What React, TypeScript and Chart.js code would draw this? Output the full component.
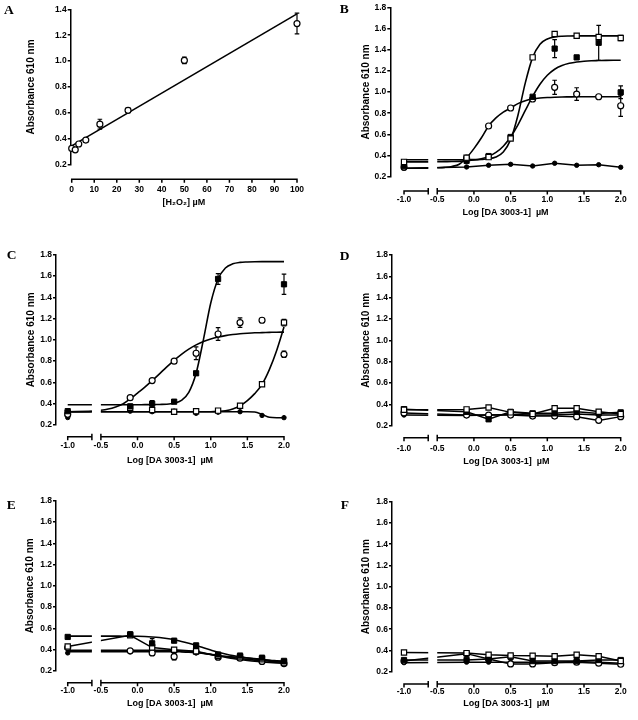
import React, { useEffect, useRef } from 'react';
import { Chart, registerables, LinearScale } from 'chart.js';

Chart.register(...registerables);

// ---------------- shared axis values ----------------
const LOG_X = [-1.0, -0.1, 0.2, 0.5, 0.8, 1.1, 1.4, 1.7, 2.0];
const CURVE_X = [-1.0, -0.67, -0.5, -0.4, -0.3, -0.2, -0.1, 0.0, 0.1, 0.2, 0.3, 0.4, 0.5, 0.6, 0.7, 0.8, 0.9, 1.0, 1.1, 1.2, 1.3, 1.4, 1.5, 1.6, 1.7, 1.8, 1.9, 2.0];
const LOG_TICKS = [-1.0, -0.5, 0.0, 0.5, 1.0, 1.5, 2.0];
const ABS_TICKS = [0.2, 0.4, 0.6, 0.8, 1.0, 1.2, 1.4, 1.6, 1.8];
const A_ABS_TICKS = [0.2, 0.4, 0.6, 0.8, 1.0, 1.2, 1.4];
const H2O2_TICKS = [0, 10, 20, 30, 40, 50, 60, 70, 80, 90, 100];

// ---------------- panel A ----------------
const A_CONC = [0, 1.5625, 3.125, 6.25, 12.5, 25, 50, 100];
const A_ABS = [0.326, 0.315, 0.36, 0.39, 0.513, 0.62, 1.005, 1.29];
const A_ERR = [0.008, 0.008, 0.008, 0.008, 0.038, 0.02, 0.025, 0.08];
const A_FIT_X = [0, 100];
const A_FIT_Y = [0.345, 1.365];

// ---------------- panel B ----------------
const B_OPEN_SQ = [0.34, 0.38, 0.385, 0.56, 1.327, 1.547, 1.531, 1.52, 1.51];
const B_OPEN_SQ_ERR = [0, 0, 0, 0, 0, 0, 0, 0, 0.025];
const B_FILLED_SQ = [0.30, 0.35, 0.395, 0.575, 0.955, 1.41, 1.327, 1.465, 0.997];
const B_FILLED_SQ_ERR = [0, 0, 0, 0, 0, 0.085, 0, 0.165, 0.06];
const B_OPEN_CIRC = [0.29, 0.375, 0.679, 0.849, 0.934, 1.044, 0.98, 0.955, 0.87];
const B_OPEN_CIRC_ERR = [0, 0, 0, 0, 0, 0.067, 0.06, 0, 0.1];
const B_DOTS = [0.28, 0.292, 0.308, 0.317, 0.301, 0.327, 0.308, 0.313, 0.289];
const B_FIT_OPEN_SQ = [0.36, 0.36, 0.36, 0.36, 0.36, 0.36, 0.361, 0.361, 0.363, 0.369, 0.386, 0.433, 0.55, 0.781, 1.086, 1.327, 1.451, 1.501, 1.52, 1.527, 1.529, 1.53, 1.53, 1.53, 1.53, 1.53, 1.53, 1.53];
const B_FIT_FILLED_SQ = [0.34, 0.34, 0.341, 0.342, 0.343, 0.345, 0.35, 0.357, 0.37, 0.392, 0.429, 0.488, 0.575, 0.69, 0.826, 0.959, 1.073, 1.158, 1.215, 1.25, 1.271, 1.284, 1.291, 1.295, 1.297, 1.299, 1.3, 1.3];
const B_FIT_OPEN_CIRC = [0.28, 0.281, 0.284, 0.288, 0.297, 0.318, 0.379, 0.465, 0.565, 0.679, 0.755, 0.81, 0.849, 0.89, 0.918, 0.934, 0.943, 0.948, 0.951, 0.953, 0.954, 0.955, 0.955, 0.955, 0.955, 0.955, 0.955, 0.955];

// ---------------- panel C ----------------
const C_FILLED_SQ = [0.33, 0.375, 0.40, 0.419, 0.686, 1.572, null, null, 1.522];
const C_FILLED_SQ_ERR = [0, 0.02, 0.03, 0, 0, 0.05, 0, 0, 0.095];
const C_OPEN_CIRC = [0.30, 0.457, 0.617, 0.80, 0.874, 1.055, 1.162, 1.184, 0.864];
const C_OPEN_CIRC_ERR = [0, 0, 0, 0, 0.06, 0.06, 0.045, 0.02, 0.03];
const C_OPEN_SQ = [0.31, 0.36, 0.34, 0.325, 0.33, 0.335, 0.381, 0.582, 1.162];
const C_OPEN_SQ_ERR = [0, 0, 0, 0, 0, 0, 0, 0, 0.03];
const C_DOTS = [0.27, 0.33, 0.325, 0.33, 0.31, 0.32, 0.325, 0.29, 0.269];
const C_FIT_FILLED_SQ = [0.39, 0.39, 0.39, 0.39, 0.39, 0.39, 0.39, 0.39, 0.391, 0.391, 0.393, 0.395, 0.405, 0.432, 0.507, 0.686, 1.002, 1.346, 1.572, 1.675, 1.714, 1.728, 1.732, 1.734, 1.735, 1.735, 1.735, 1.735];
const C_FIT_OPEN_CIRC = [0.325, 0.33, 0.338, 0.35, 0.37, 0.398, 0.445, 0.50, 0.555, 0.617, 0.681, 0.746, 0.808, 0.864, 0.913, 0.953, 0.984, 1.008, 1.026, 1.04, 1.05, 1.057, 1.062, 1.066, 1.068, 1.07, 1.072, 1.073];
const C_FIT_OPEN_SQ = [0.325, 0.325, 0.325, 0.325, 0.325, 0.325, 0.325, 0.325, 0.325, 0.325, 0.325, 0.325, 0.325, 0.325, 0.325, 0.325, 0.325, 0.325, 0.328, 0.334, 0.35, 0.381, 0.43, 0.495, 0.582, 0.72, 0.90, 1.12];
const C_FIT_DOTS = [0.325, 0.325, 0.325, 0.325, 0.325, 0.325, 0.325, 0.325, 0.325, 0.325, 0.325, 0.325, 0.325, 0.325, 0.325, 0.325, 0.325, 0.325, 0.325, 0.325, 0.325, 0.325, 0.325, 0.322, 0.30, 0.272, 0.268, 0.268];

// ---------------- panel D ----------------
const D_OPEN_SQ = [0.35, 0.353, 0.37, 0.325, 0.31, 0.363, 0.363, 0.33, 0.31];
const D_FILLED_SQ = [0.355, 0.33, 0.26, 0.33, 0.316, 0.316, 0.33, 0.315, 0.325];
const D_OPEN_CIRC = [0.32, 0.30, 0.30, 0.30, 0.29, 0.29, 0.284, 0.25, 0.285];
const D_DOTS = [0.30, 0.295, 0.30, 0.305, 0.30, 0.30, 0.31, 0.30, 0.30];

// ---------------- panel E ----------------
const E_FILLED_SQ = [0.52, 0.545, 0.46, 0.485, 0.44, 0.355, 0.345, 0.325, 0.295];
const E_FILLED_SQ_ERR = [0, 0.02, 0.045, 0, 0.02, 0, 0, 0, 0];
const E_OPEN_SQ = [0.43, 0.535, 0.42, 0.40, 0.385, 0.34, 0.33, 0.31, 0.28];
const E_OPEN_CIRC = [0.42, 0.39, 0.37, 0.335, 0.38, 0.33, 0.32, 0.29, 0.27];
const E_OPEN_CIRC_ERR = [0, 0, 0, 0.03, 0, 0, 0, 0, 0];
const E_DOTS = [0.37, 0.38, 0.38, 0.385, 0.37, 0.33, 0.32, 0.29, 0.27];
const E_FIT_FILLED_SQ = [0.528, 0.528, 0.528, 0.528, 0.528, 0.527, 0.527, 0.526, 0.524, 0.52, 0.514, 0.505, 0.493, 0.478, 0.46, 0.44, 0.418, 0.397, 0.377, 0.36, 0.345, 0.333, 0.322, 0.314, 0.307, 0.301, 0.297, 0.293];
const E_FIT_OPEN_CIRC = [0.395, 0.395, 0.395, 0.395, 0.395, 0.395, 0.395, 0.395, 0.395, 0.395, 0.395, 0.395, 0.393, 0.39, 0.385, 0.377, 0.367, 0.355, 0.342, 0.33, 0.318, 0.308, 0.299, 0.291, 0.285, 0.28, 0.276, 0.273];
const E_FIT_DOTS = [0.382, 0.382, 0.382, 0.382, 0.382, 0.382, 0.382, 0.382, 0.382, 0.382, 0.382, 0.382, 0.382, 0.38, 0.377, 0.372, 0.365, 0.356, 0.346, 0.336, 0.326, 0.317, 0.309, 0.302, 0.296, 0.291, 0.287, 0.284];

// ---------------- panel F ----------------
const F_OPEN_SQ = [0.38, 0.375, 0.36, 0.352, 0.35, 0.345, 0.36, 0.345, 0.30];
const F_OPEN_CIRC = [0.30, 0.37, 0.32, 0.273, 0.273, 0.285, 0.29, 0.28, 0.27];
const F_FILLED_SQ = [0.31, 0.31, 0.32, 0.34, 0.30, 0.30, 0.30, 0.31, 0.31];
const F_DOTS = [0.285, 0.29, 0.29, 0.29, 0.29, 0.29, 0.295, 0.29, 0.28];

// ---------------- broken x scale ----------------
const BREAK_LO = -0.67;
const BREAK_HI = -0.5;
const BREAK_GAP_PX = 9;

class BrokenLinearScale extends (LinearScale as any) {
  static id = 'brokenLinear';
  static defaults = {};
  _brk() {
    const self: any = this;
    const min = self.min, max = self.max;
    const w = self.right - self.left;
    const span = (max - min) - (BREAK_HI - BREAK_LO);
    const k = (w - BREAK_GAP_PX) / span;
    const pLo = self.left + (BREAK_LO - min) * k;
    const pHi = self.right - (max - BREAK_HI) * k;
    return { min, max, k, pLo, pHi };
  }
  getPixelForValue(value: any) {
    if (value === null || value === undefined || isNaN(value)) return NaN;
    const self: any = this;
    const { min, max, k, pLo, pHi } = this._brk();
    if (value <= BREAK_LO) return self.left + (value - min) * k;
    if (value >= BREAK_HI) return self.right - (max - value) * k;
    return pLo + ((value - BREAK_LO) / (BREAK_HI - BREAK_LO)) * (pHi - pLo);
  }
  getValueForPixel(pixel: number) {
    const self: any = this;
    const { min, max, k, pLo, pHi } = this._brk();
    if (pixel <= pLo) return min + (pixel - self.left) / k;
    if (pixel >= pHi) return max - (self.right - pixel) / k;
    return BREAK_LO + ((pixel - pLo) / (pHi - pLo)) * (BREAK_HI - BREAK_LO);
  }
}
Chart.register(BrokenLinearScale as any);

// ---------------- styles ----------------
const FONT = '"Liberation Sans", Arial, Helvetica, sans-serif';
const TICK_SIZE = 8.5;
const Y_TITLE_SIZE = 10;
const X_TITLE_SIZE = 9;
const AXIS_W = 1.5;
const PANEL_W = 319;
const PANEL_H = 240;

const MARKS: Record<string, any> = {
  openCircle: { pointStyle: 'circle', pointRadius: 3, pointBackgroundColor: '#fff', pointBorderColor: '#000', pointBorderWidth: 1.2 },
  openSquare: { pointStyle: 'rect', pointRadius: 3.7, pointBackgroundColor: '#fff', pointBorderColor: '#000', pointBorderWidth: 1.2 },
  filledSquare: { pointStyle: 'rect', pointRadius: 3.7, pointBackgroundColor: '#000', pointBorderColor: '#000', pointBorderWidth: 1 },
  dot: { pointStyle: 'circle', pointRadius: 2.2, pointBackgroundColor: '#000', pointBorderColor: '#000', pointBorderWidth: 1 },
};

type Series = { xs: number[]; ys: (number | null)[]; es?: number[]; mark: string; line: boolean };
type Curve = { xs: number[]; ys: number[]; smooth: boolean };

const LOG_TITLE = 'Log [DA 3003-1]  \u00B5M';

const PANELS = [
  {
    id: 'A', ox: 0, oy: 0, letterX: 4, letterY: 2.5, broken: false,
    xTitle: '[H\u2082O\u2082] \u00B5M', xTicks: H2O2_TICKS, yTicks: A_ABS_TICKS, xFmt: (v: number) => String(v),
    geom: { axisX: 70.7, top: 9.3, bottom: 164.7, right: 297, xAxisY: 179.3, yTitleCX: 31.7, labelOff: 10, titleOff: 23, xMin: -0.45, xMax: 100, yMin: 0.2, yMax: 1.4 },
    series: [{ xs: A_CONC, ys: A_ABS, es: A_ERR, mark: 'openCircle', line: false }] as Series[],
    curves: [{ xs: A_FIT_X, ys: A_FIT_Y, smooth: false }] as Curve[],
  },
  {
    id: 'B', ox: 319, oy: 0, letterX: 339.7, letterY: 1.5, broken: true,
    xTitle: LOG_TITLE, xTicks: LOG_TICKS, yTicks: ABS_TICKS, xFmt: (v: number) => v.toFixed(1),
    geom: { axisX: 71.3, top: 7.3, bottom: 176.7, right: 301.7, xAxisY: 191, yTitleCX: 47.3, labelOff: 9, titleOff: 21.5, xMin: -1.187, xMax: 2.0, yMin: 0.2, yMax: 1.8 },
    series: [
      { xs: LOG_X, ys: B_OPEN_SQ, es: B_OPEN_SQ_ERR, mark: 'openSquare', line: false },
      { xs: LOG_X, ys: B_FILLED_SQ, es: B_FILLED_SQ_ERR, mark: 'filledSquare', line: false },
      { xs: LOG_X, ys: B_OPEN_CIRC, es: B_OPEN_CIRC_ERR, mark: 'openCircle', line: false },
      { xs: LOG_X, ys: B_DOTS, mark: 'dot', line: true },
    ] as Series[],
    curves: [
      { xs: CURVE_X, ys: B_FIT_OPEN_SQ, smooth: true },
      { xs: CURVE_X, ys: B_FIT_FILLED_SQ, smooth: true },
      { xs: CURVE_X, ys: B_FIT_OPEN_CIRC, smooth: true },
    ] as Curve[],
  },
  {
    id: 'C', ox: 0, oy: 240, letterX: 6.7, letterY: 247.5, broken: true,
    xTitle: LOG_TITLE, xTicks: LOG_TICKS, yTicks: ABS_TICKS, xFmt: (v: number) => v.toFixed(1),
    geom: { axisX: 56, top: 14.7, bottom: 185, right: 284, xAxisY: 196.7, yTitleCX: 30.8, labelOff: 9.3, titleOff: 23.5, xMin: -1.16, xMax: 2.0, yMin: 0.2, yMax: 1.8 },
    series: [
      { xs: LOG_X, ys: C_FILLED_SQ, es: C_FILLED_SQ_ERR, mark: 'filledSquare', line: false },
      { xs: LOG_X, ys: C_OPEN_CIRC, es: C_OPEN_CIRC_ERR, mark: 'openCircle', line: false },
      { xs: LOG_X, ys: C_OPEN_SQ, es: C_OPEN_SQ_ERR, mark: 'openSquare', line: false },
      { xs: LOG_X, ys: C_DOTS, mark: 'dot', line: false },
    ] as Series[],
    curves: [
      { xs: CURVE_X, ys: C_FIT_FILLED_SQ, smooth: true },
      { xs: CURVE_X, ys: C_FIT_OPEN_CIRC, smooth: true },
      { xs: CURVE_X, ys: C_FIT_OPEN_SQ, smooth: true },
      { xs: CURVE_X, ys: C_FIT_DOTS, smooth: true },
    ] as Curve[],
  },
  {
    id: 'D', ox: 319, oy: 240, letterX: 339.7, letterY: 249.3, broken: true,
    xTitle: LOG_TITLE, xTicks: LOG_TICKS, yTicks: ABS_TICKS, xFmt: (v: number) => v.toFixed(1),
    geom: { axisX: 73, top: 15, bottom: 185.7, right: 301.7, xAxisY: 197.7, yTitleCX: 46.8, labelOff: 11, titleOff: 23.5, xMin: -1.1635, xMax: 2.0, yMin: 0.2, yMax: 1.8 },
    series: [
      { xs: LOG_X, ys: D_OPEN_SQ, mark: 'openSquare', line: true },
      { xs: LOG_X, ys: D_FILLED_SQ, mark: 'filledSquare', line: true },
      { xs: LOG_X, ys: D_OPEN_CIRC, mark: 'openCircle', line: true },
      { xs: LOG_X, ys: D_DOTS, mark: 'dot', line: true },
    ] as Series[],
    curves: [] as Curve[],
  },
  {
    id: 'E', ox: 0, oy: 480, letterX: 6.7, letterY: 497.5, broken: true,
    xTitle: LOG_TITLE, xTicks: LOG_TICKS, yTicks: ABS_TICKS, xFmt: (v: number) => v.toFixed(1),
    geom: { axisX: 56, top: 20.7, bottom: 191, right: 284, xAxisY: 202.7, yTitleCX: 30, labelOff: 8, titleOff: 21, xMin: -1.16, xMax: 2.0, yMin: 0.2, yMax: 1.8 },
    series: [
      { xs: LOG_X, ys: E_FILLED_SQ, es: E_FILLED_SQ_ERR, mark: 'filledSquare', line: false },
      { xs: LOG_X, ys: E_OPEN_SQ, mark: 'openSquare', line: true },
      { xs: LOG_X, ys: E_OPEN_CIRC, es: E_OPEN_CIRC_ERR, mark: 'openCircle', line: false },
      { xs: LOG_X, ys: E_DOTS, mark: 'dot', line: false },
    ] as Series[],
    curves: [
      { xs: CURVE_X, ys: E_FIT_FILLED_SQ, smooth: true },
      { xs: CURVE_X, ys: E_FIT_OPEN_CIRC, smooth: true },
      { xs: CURVE_X, ys: E_FIT_DOTS, smooth: true },
    ] as Curve[],
  },
  {
    id: 'F', ox: 319, oy: 480, letterX: 340.7, letterY: 498.3, broken: true,
    xTitle: LOG_TITLE, xTicks: LOG_TICKS, yTicks: ABS_TICKS, xFmt: (v: number) => v.toFixed(1),
    geom: { axisX: 73, top: 21.7, bottom: 191.7, right: 301.7, xAxisY: 204, yTitleCX: 47.2, labelOff: 7.5, titleOff: 20, xMin: -1.1635, xMax: 2.0, yMin: 0.2, yMax: 1.8 },
    series: [
      { xs: LOG_X, ys: F_OPEN_SQ, mark: 'openSquare', line: true },
      { xs: LOG_X, ys: F_FILLED_SQ, mark: 'filledSquare', line: true },
      { xs: LOG_X, ys: F_OPEN_CIRC, mark: 'openCircle', line: true },
      { xs: LOG_X, ys: F_DOTS, mark: 'dot', line: true },
    ] as Series[],
    curves: [] as Curve[],
  },
];

type PanelSpec = (typeof PANELS)[number];

function toPoints(xs: number[], ys: (number | null)[], es?: number[]) {
  const out: any[] = [];
  xs.forEach((x, i) => {
    const y = ys[i];
    if (y === null || y === undefined) return;
    out.push({ x, y, e: es ? es[i] : 0 });
  });
  return out;
}

function drawErrorBars(chart: any) {
  const ctx = chart.ctx;
  const xs = chart.scales.x;
  const ys = chart.scales.y;
  ctx.save();
  ctx.strokeStyle = '#000';
  ctx.lineWidth = 1.2;
  chart.data.datasets.forEach((ds: any) => {
    (ds.data as any[]).forEach((p) => {
      if (!p || !p.e) return;
      const x = xs.getPixelForValue(p.x);
      const y1 = ys.getPixelForValue(p.y + p.e);
      const y2 = ys.getPixelForValue(p.y - p.e);
      ctx.beginPath();
      ctx.moveTo(x, y1);
      ctx.lineTo(x, y2);
      ctx.moveTo(x - 2.3, y1);
      ctx.lineTo(x + 2.3, y1);
      ctx.moveTo(x - 2.3, y2);
      ctx.lineTo(x + 2.3, y2);
      ctx.stroke();
    });
  });
  ctx.restore();
}

function decorPlugin(spec: PanelSpec, axisOff: number) {
  return {
    id: 'decor' + spec.id,
    beforeDatasetsDraw(chart: any) {
      drawErrorBars(chart);
      const ctx = chart.ctx;
      ctx.save();
      if (spec.broken) {
        const x = chart.scales.x;
        const a = x.getPixelForValue(BREAK_LO);
        const b = x.getPixelForValue(BREAK_HI);
        ctx.beginPath();
        ctx.rect(0, 0, chart.width, chart.height);
        ctx.rect(a, 0, b - a, chart.height);
        ctx.clip('evenodd');
      }
    },
    afterDatasetsDraw(chart: any) {
      chart.ctx.restore();
    },
    afterDraw(chart: any) {
      const ctx = chart.ctx;
      const x = chart.scales.x;
      const yA = chart.chartArea.bottom + axisOff;
      const ticks = spec.xTicks;
      const first = ticks[0];
      const last = ticks[ticks.length - 1];
      const segs = spec.broken ? [[first, BREAK_LO], [BREAK_HI, last]] : [[first, last]];
      ctx.save();
      ctx.strokeStyle = '#000';
      ctx.lineWidth = AXIS_W;
      ctx.beginPath();
      segs.forEach(([a, b]) => {
        ctx.moveTo(x.getPixelForValue(a) - AXIS_W / 2, yA);
        ctx.lineTo(x.getPixelForValue(b) + AXIS_W / 2, yA);
      });
      ticks.forEach((v) => {
        const px = x.getPixelForValue(v);
        ctx.moveTo(px, yA);
        ctx.lineTo(px, yA + 3.5);
      });
      if (spec.broken) {
        [BREAK_LO, BREAK_HI].forEach((v) => {
          const px = x.getPixelForValue(v);
          ctx.moveTo(px, yA - 3);
          ctx.lineTo(px, yA + 3.5);
        });
      }
      ctx.stroke();
      ctx.restore();
    },
  };
}

function makeConfig(spec: PanelSpec) {
  const g = spec.geom;
  const yTitleLH = Y_TITLE_SIZE * 1.2;
  const xTitleLH = X_TITLE_SIZE * 1.2;
  const tickLH = TICK_SIZE * 1.2;
  const axisOff = g.xAxisY - g.bottom;
  const Wy = g.axisX - (g.yTitleCX - yTitleLH / 2);
  const Hx = axisOff + g.titleOff + xTitleLH / 2;
  const padding = {
    left: g.yTitleCX - yTitleLH / 2,
    top: g.top,
    right: PANEL_W - g.right,
    bottom: PANEL_H - g.bottom - Hx,
  };
  const tickFont = { family: FONT, size: TICK_SIZE, weight: 'bold' as const };

  const datasets: any[] = [];
  spec.series.forEach((s) => {
    datasets.push({
      data: toPoints(s.xs, s.ys, s.es),
      showLine: s.line,
      borderColor: '#000',
      borderWidth: 1.5,
      tension: 0,
      clip: false,
      order: 0,
      ...MARKS[s.mark],
    });
  });
  spec.curves.forEach((c) => {
    datasets.push({
      data: toPoints(c.xs, c.ys),
      showLine: true,
      borderColor: '#000',
      borderWidth: 1.6,
      pointRadius: 0,
      pointHoverRadius: 0,
      cubicInterpolationMode: c.smooth ? 'monotone' : 'default',
      tension: 0,
      clip: false,
      order: 1,
    });
  });

  return {
    type: 'line',
    data: { datasets },
    options: {
      responsive: false,
      animation: false,
      events: [],
      layout: { padding, autoPadding: false },
      plugins: { legend: { display: false }, tooltip: { enabled: false }, title: { display: false } },
      scales: {
        x: {
          type: spec.broken ? 'brokenLinear' : 'linear',
          min: g.xMin,
          max: g.xMax,
          bounds: 'data',
          afterBuildTicks: (s: any) => {
            s.ticks = spec.xTicks.map((v) => ({ value: v }));
          },
          afterFit: (s: any) => {
            s.height = Hx;
            s.paddingLeft = 0;
            s.paddingRight = 0;
          },
          grid: { display: false, drawTicks: false },
          border: { display: false },
          ticks: {
            autoSkip: false,
            maxRotation: 0,
            minRotation: 0,
            padding: axisOff + g.labelOff - tickLH / 2,
            font: tickFont,
            color: '#000',
            callback: (v: any) => spec.xFmt(Number(v)),
          },
          title: {
            display: true,
            text: spec.xTitle,
            color: '#000',
            padding: 0,
            font: { family: FONT, size: X_TITLE_SIZE, weight: 'bold' },
          },
        },
        y: {
          type: 'linear',
          min: g.yMin,
          max: g.yMax,
          bounds: 'data',
          afterBuildTicks: (s: any) => {
            s.ticks = spec.yTicks.map((v) => ({ value: v }));
          },
          afterFit: (s: any) => {
            s.width = Wy;
            s.paddingTop = 0;
            s.paddingBottom = 0;
          },
          grid: { display: true, drawOnChartArea: false, drawTicks: true, tickLength: 3, color: '#000', lineWidth: AXIS_W },
          border: { display: true, color: '#000', width: AXIS_W },
          ticks: {
            padding: 1,
            font: tickFont,
            color: '#000',
            callback: (v: any) => Number(v).toFixed(1),
          },
          title: {
            display: true,
            text: 'Absorbance 610 nm',
            color: '#000',
            padding: 0,
            font: { family: FONT, size: Y_TITLE_SIZE, weight: 'bold' },
          },
        },
      },
    },
    plugins: [decorPlugin(spec, axisOff)],
  };
}

function Panel({ spec }: { spec: PanelSpec }) {
  const ref = useRef<HTMLCanvasElement | null>(null);
  useEffect(() => {
    if (!ref.current) return;
    const chart = new Chart(ref.current, makeConfig(spec) as any);
    return () => chart.destroy();
  }, [spec]);
  return (
    <canvas
      ref={ref}
      width={PANEL_W}
      height={PANEL_H}
      style={{ position: 'absolute', left: spec.ox, top: spec.oy, width: PANEL_W, height: PANEL_H, display: 'block' }}
    />
  );
}

export default function App() {
  return (
    <div style={{ position: 'absolute', left: 0, top: 0, width: 638, height: 720, background: '#fff', overflow: 'hidden' }}>
      {PANELS.map((p) => (
        <Panel key={p.id} spec={p} />
      ))}
      {PANELS.map((p) => (
        <div
          key={'L' + p.id}
          style={{
            position: 'absolute',
            left: p.letterX,
            top: p.letterY,
            font: 'bold 13.5px "Liberation Serif", "Times New Roman", serif',
            lineHeight: '1',
            color: '#000',
          }}
        >
          {p.id}
        </div>
      ))}
    </div>
  );
}
